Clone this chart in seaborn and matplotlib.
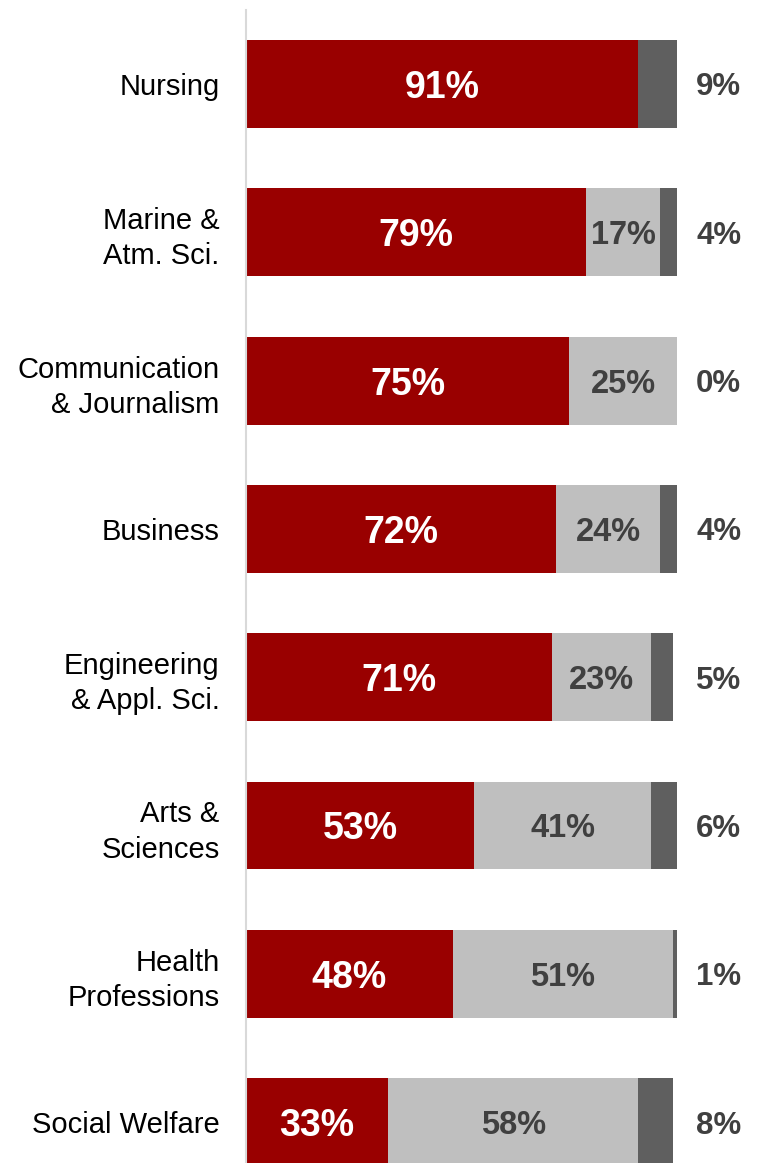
import matplotlib
matplotlib.use("Agg")
import matplotlib.pyplot as plt
import seaborn as sns
import pandas as pd

categories = ["Nursing", "Marine &\nAtm. Sci.", "Communication\n& Journalism", "Business",
              "Engineering\n& Appl. Sci.", "Arts &\nSciences", "Health\nProfessions", "Social Welfare"]
red_vals = [91, 79, 75, 72, 71, 53, 48, 33]
light_vals = [0, 17, 25, 24, 23, 41, 51, 58]
dark_vals = [9, 4, 0, 4, 5, 6, 1, 8]

RED = "#990000"
LIGHT = "#BFBFBF"
DARK = "#5F5F5F"
TXT = "#404040"

sns.set_theme(style="white")
plt.rcParams["font.family"] = ["Liberation Sans", "DejaVu Sans"]

df = pd.DataFrame({"cat": categories, "red": red_vals, "light": light_vals, "dark": dark_vals})
df["c2"] = df["red"] + df["light"]
df["c3"] = df["c2"] + df["dark"]

fig = plt.figure(figsize=(7.57, 11.63), dpi=100)
ax = fig.add_axes([246 / 757, 0.0, (677 - 246) / 757, 1 - 10 / 1163])

w = 0.593
sns.barplot(data=df, x="c3", y="cat", color=DARK, width=w, orient="h", ax=ax, saturation=1, linewidth=0)
sns.barplot(data=df, x="c2", y="cat", color=LIGHT, width=w, orient="h", ax=ax, saturation=1, linewidth=0)
sns.barplot(data=df, x="red", y="cat", color=RED, width=w, orient="h", ax=ax, saturation=1, linewidth=0)

ax.set_xlim(0, 100)
ax.set_ylim(7.276, -0.499)
ax.set_xlabel("")
ax.set_ylabel("")
ax.set_xticks([])
ax.tick_params(axis="y", length=0, pad=19, labelsize=21, labelcolor="black")
for lab in ax.get_yticklabels():
    lab.set_linespacing(1.32)
for s in ["top", "right", "bottom"]:
    ax.spines[s].set_visible(False)
ax.spines["left"].set_color("#D9D9D9")
ax.spines["left"].set_linewidth(1.5)

for i, row in df.iterrows():
    ax.text(row["red"] / 2, i, f"{row['red']}%", ha="center", va="center_baseline",
            color="white", fontsize=27, fontweight="bold")
    if row["light"] > 0:
        ax.text(row["red"] + row["light"] / 2, i, f"{row['light']}%", ha="center", va="center_baseline",
                color=TXT, fontsize=23.5, fontweight="bold")
    ax.text(109.7, i, f"{row['dark']}%", ha="center", va="center_baseline",
            color=TXT, fontsize=22.5, fontweight="bold", clip_on=False)

fig.savefig("out.png", dpi=100)
